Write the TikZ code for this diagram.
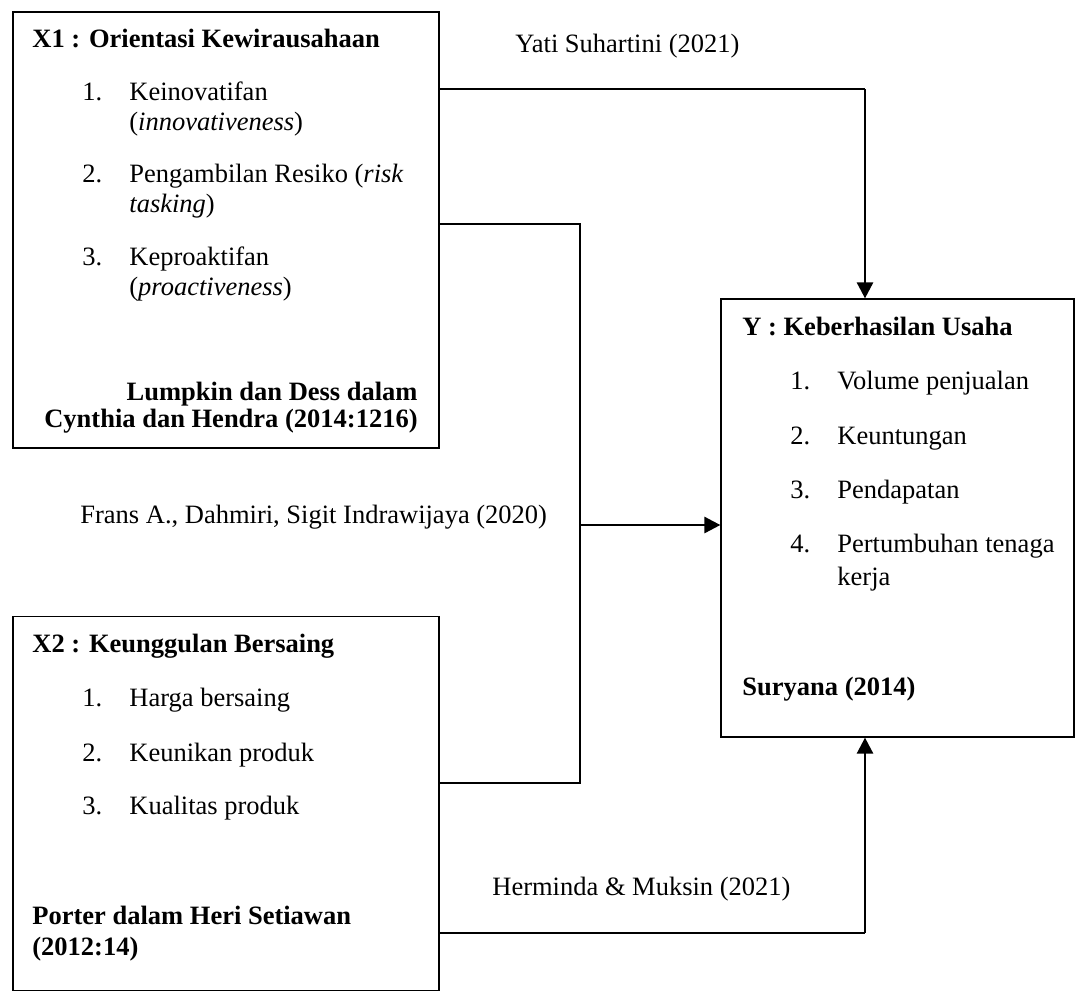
\documentclass[tikz,border=0pt]{standalone}
\usepackage{fontspec}
\setmainfont{Liberation Serif}
\usetikzlibrary{arrows.meta}
\begin{document}
\begin{tikzpicture}[x=0.5pt,y=-0.5pt,
  box/.style={draw=black,line width=0.6pt,rectangle,inner sep=0pt},
  txt/.style={anchor=base west,inner sep=0pt,font=\fontsize{13.25}{15}\selectfont},
  btxt/.style={anchor=base west,inner sep=0pt,font=\fontsize{13.25}{15}\selectfont\bfseries},
  rbtxt/.style={anchor=base east,inner sep=0pt,font=\fontsize{13.25}{15}\selectfont\bfseries},
  thinln/.style={line width=0.6pt},
  thickln/.style={line width=1.3pt},
  arr/.style={-{Triangle[length=8pt,width=8pt]}}]
\useasboundingbox (0,0) rectangle (1075,992);
\clip (0,0) rectangle (1075,992);

% boxes
\node[box,minimum width=213pt,minimum height=218pt] (X1) at (226,230) {};
\node[box,minimum width=213pt,minimum height=187pt] (X2) at (226,803.5) {};
\node[box,minimum width=176.5pt,minimum height=219pt] (Y) at (897.5,518) {};

% X1 content
\node[btxt] (x1t) at (32,47) {X1 : Orientasi Kewirausahaan};
\node[txt] (x1n1) at (82,100) {1.};
\node[txt] (x1i1) at (129,100) {Keinovatifan};
\node[txt] (x1i1b) at (129,130) {(\textit{innovativeness})};
\node[txt] (x1n2) at (82,182) {2.};
\node[txt] (x1i2) at (129,182) {Pengambilan Resiko (\textit{risk}};
\node[txt] (x1i2b) at (129,212) {\textit{tasking})};
\node[txt] (x1n3) at (82,265) {3.};
\node[txt] (x1i3) at (129,265) {Keproaktifan};
\node[txt] (x1i3b) at (129,295) {(\textit{proactiveness})};
\node[rbtxt] (x1s1) at (418,400) {Lumpkin dan Dess dalam};
\node[rbtxt] (x1s2) at (418,427) {Cynthia dan Hendra (2014:1216)};

% X2 content
\node[btxt] (x2t) at (32,652) {X2 : Keunggulan Bersaing};
\node[txt] (x2n1) at (82,706) {1.};
\node[txt] (x2i1) at (129,706) {Harga bersaing};
\node[txt] (x2n2) at (82,761) {2.};
\node[txt] (x2i2) at (129,761) {Keunikan produk};
\node[txt] (x2n3) at (82,814) {3.};
\node[txt] (x2i3) at (129,814) {Kualitas produk};
\node[btxt] (x2s1) at (32,924) {Porter dalam Heri Setiawan};
\node[btxt] (x2s2) at (32,955) {(2012:14)};

% Y content
\node[btxt] (yt) at (742,335) {Y : Keberhasilan Usaha};
\node[txt] (yn1) at (790,389) {1.};
\node[txt] (yi1) at (837,389) {Volume penjualan};
\node[txt] (yn2) at (790,444) {2.};
\node[txt] (yi2) at (837,444) {Keuntungan};
\node[txt] (yn3) at (790,498) {3.};
\node[txt] (yi3) at (837,498) {Pendapatan};
\node[txt] (yn4) at (790,552) {4.};
\node[txt] (yi4) at (837,552) {Pertumbuhan tenaga};
\node[txt] (yi4b) at (837,585) {kerja};
\node[btxt] (ys) at (742,695) {Suryana (2014)};

% connector labels
\node[txt] (l1) at (515,52) {Yati Suhartini (2021)};
\node[txt] (l2) at (80,523) {Frans A., Dahmiri, Sigit Indrawijaya (2020)};
\node[txt] (l3) at (492,895) {Herminda \& Muksin (2021)};

% coordinates for bends
\coordinate (t1) at (865,89);
\coordinate (b1) at (580,224);
\coordinate (b2) at (580,783);
\coordinate (m) at (580,525);
\coordinate (u1) at (865,933);

% top connector X1 -> Y
\draw[thinln] (X1.east |- t1) -- (t1);
\draw[thickln,arr] (t1) -- (t1 |- Y.north);

% bracket X1 + X2 -> Y
\draw[thickln] (X1.east |- b1) -- (b1) -- (b2) -- (X2.east |- b2);
\draw[thickln,arr] (m) -- (Y.west |- m);

% bottom connector X2 -> Y
\draw[thinln] (X2.east |- u1) -- (u1);
\draw[thickln,arr] (u1) -- (u1 |- Y.south);
\end{tikzpicture}
\end{document}
